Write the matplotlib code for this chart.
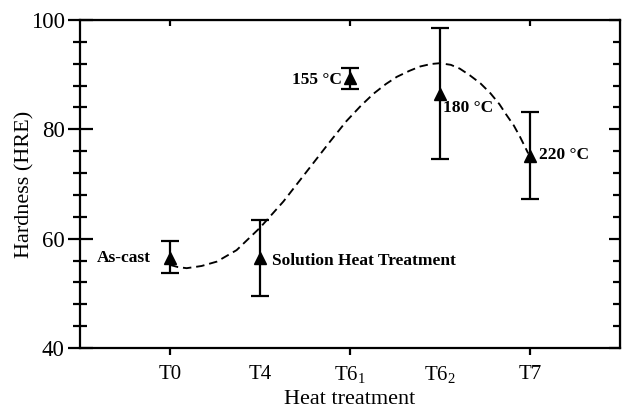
import matplotlib
matplotlib.use("Agg")
import matplotlib.pyplot as plt
from matplotlib.ticker import MultipleLocator

plt.rcParams['font.family'] = 'Liberation Serif'
plt.rcParams['mathtext.fontset'] = 'custom'
plt.rcParams['mathtext.rm'] = 'Liberation Serif'

# data
treatments = ['T0', 'T4', r'T6$_1$', r'T6$_2$', 'T7']
pos = [1, 2, 3, 4, 5]
hardness = [56.5, 56.5, 89.4, 86.4, 75.2]
err_hi = [59.6, 63.5, 91.2, 98.6, 83.2]
err_lo = [53.7, 49.5, 87.3, 74.6, 67.2]
labels = ['As-cast', 'Solution Heat Treatment', '155 °C', '180 °C', '220 °C']

# dashed trend curve
curve_x = [1.0, 1.09, 1.185, 1.35, 1.52, 1.74, 2.0, 2.26, 2.52, 2.78, 2.96,
           3.12, 3.26, 3.4, 3.52, 3.66, 3.78, 3.9, 4.0, 4.12, 4.22, 4.33, 4.45,
           4.56, 4.66, 4.74, 4.82, 4.89, 4.98]
curve_y = [55.2, 54.8, 54.6, 55.0, 55.8, 57.9, 62.0, 66.8, 72.3, 77.8, 81.5,
           84.3, 86.5, 88.3, 89.6, 90.7, 91.5, 91.95, 92.1, 91.8, 91.1, 89.9, 88.4,
           86.6, 84.6, 82.6, 80.7, 78.6, 75.6]

fig = plt.figure(figsize=(6.26, 4.12), dpi=100)
ax = fig.add_axes([80/626, 64/412, 540/626, 328/412])

ax.plot(curve_x, curve_y, color='black', linestyle=(0, (4.5, 2.6)), linewidth=1.35)

yerr = [[h - l for h, l in zip(hardness, err_lo)], [u - h for h, u in zip(hardness, err_hi)]]
ax.errorbar(pos, hardness, yerr=yerr, fmt='^', color='black', markersize=9,
            ecolor='black', elinewidth=1.6, capsize=6.5, capthick=1.6)

# annotations
txt = dict(fontsize=12.5, fontweight='bold', va='center')
ax.text(0.79, 56.5, labels[0], ha='right', **txt)
ax.text(2.13, 55.9, labels[1], ha='left', **txt)
ax.text(2.91, 89.0, labels[2], ha='right', **txt)
ax.text(4.03, 83.9, labels[3], ha='left', **txt)
ax.text(5.10, 75.3, labels[4], ha='left', **txt)

ax.set_xlim(0, 6)
ax.set_ylim(40, 100)
for s in ax.spines.values():
    s.set_linewidth(1.6)

ax.set_xticks(pos)
ax.set_xticklabels(treatments, fontsize=15)
for i, t in enumerate(ax.xaxis.get_major_ticks()):
    if pos[i] in (2, 4):
        t.tick1line.set_visible(False)
        t.tick2line.set_visible(False)
ax.tick_params(axis='x', direction='out', length=5, width=1.6, top=False, pad=7)

ax.yaxis.set_major_locator(MultipleLocator(20))
ax.yaxis.set_minor_locator(MultipleLocator(4))
ax.tick_params(axis='y', which='major', direction='inout', length=18, width=1.6,
               labelsize=16.5, right=False, pad=2)
ax.tick_params(axis='y', which='minor', direction='inout', length=10, width=1.6, right=False)

# right / top axes with inward ticks
ry = ax.secondary_yaxis('right')
ry.yaxis.set_major_locator(MultipleLocator(20))
ry.yaxis.set_minor_locator(MultipleLocator(4))
ry.tick_params(which='major', direction='in', length=8, width=1.6, labelright=False)
ry.tick_params(which='minor', direction='in', length=5, width=1.6)

tx = ax.secondary_xaxis('top')
tx.set_xticks([1, 3, 5])
tx.tick_params(direction='in', length=4, width=1.6, labeltop=False)

ax.set_xlabel('Heat treatment', fontsize=16, labelpad=3)
ax.set_ylabel('Hardness (HRE)', fontsize=16, labelpad=-3)

fig.savefig('out.png', dpi=100)
